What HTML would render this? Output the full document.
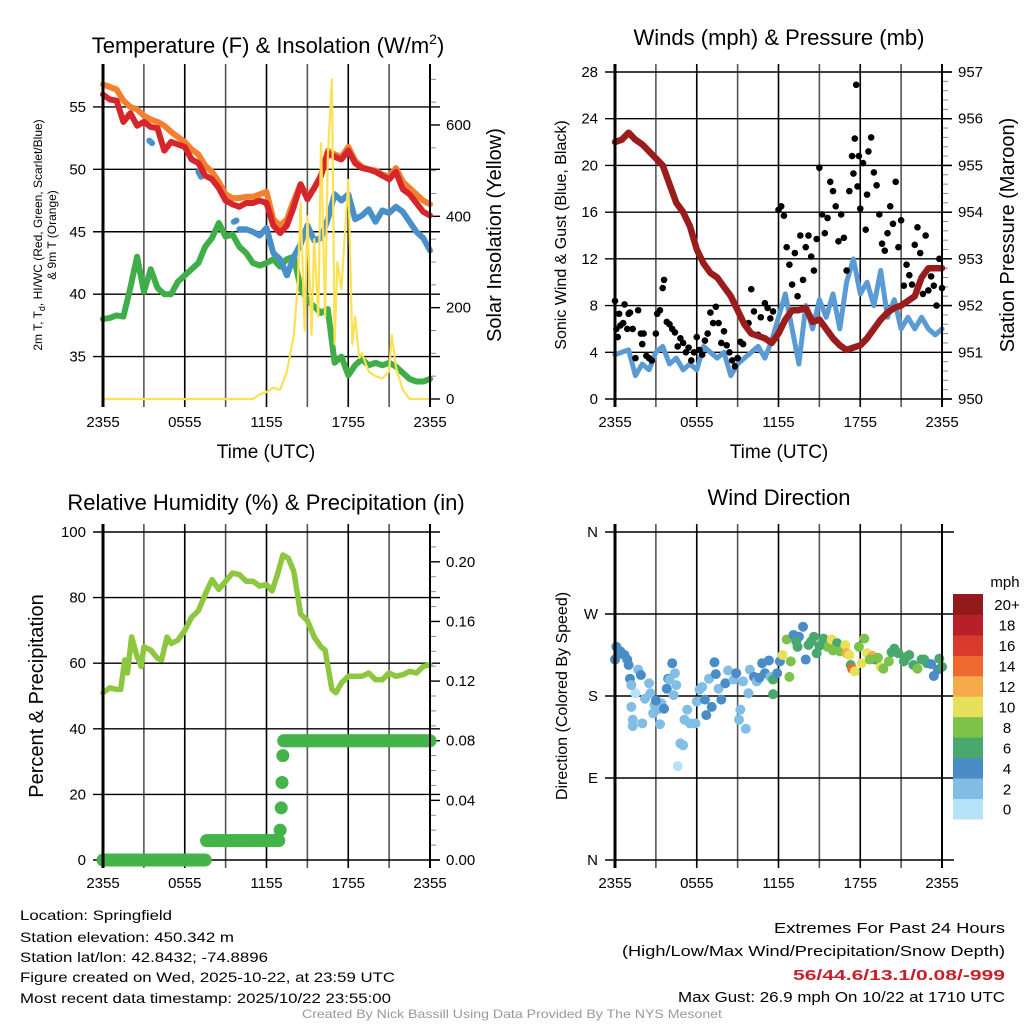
<!DOCTYPE html>
<html><head><meta charset="utf-8">
<style>
html,body{margin:0;padding:0;background:#fff;}
svg{display:block;font-family:"Liberation Sans",Arial,sans-serif;}
.t{font-size:14px;fill:#000}
</style></head>
<body>
<svg id="chart" xmlns="http://www.w3.org/2000/svg" width="1024" height="1024" viewBox="0 0 1024 1024">
<rect width="1024" height="1024" fill="#fff"/>
<g id="g1"></g>
<g id="g2"></g>
<g id="g3"></g>
<g id="g4"></g>

<text x="268" y="53" font-size="22" text-anchor="middle">Temperature (F) &amp; Insolation (W/m<tspan font-size="14" dy="-9">2</tspan><tspan dy="9">)</tspan></text>
<text x="779" y="45" font-size="22" text-anchor="middle">Winds (mph) &amp; Pressure (mb)</text>
<text x="266" y="510" font-size="22" text-anchor="middle">Relative Humidity (%) &amp; Precipitation (in)</text>
<text x="779" y="505" font-size="22" text-anchor="middle">Wind Direction</text>

<text transform="translate(42,235) rotate(-90)" font-size="12" text-anchor="middle">2m T, T<tspan font-size="9" dy="3">d</tspan><tspan dy="-3">, HI/WC (Red, Green, Scarlet/Blue)</tspan></text>
<text transform="translate(56,235) rotate(-90)" font-size="12" text-anchor="middle">&amp; 9m T (Orange)</text>
<text transform="translate(501,235) rotate(-90)" font-size="20" text-anchor="middle">Solar Insolation (Yellow)</text>
<text transform="translate(566,235) rotate(-90)" font-size="16" text-anchor="middle">Sonic Wind &amp; Gust (Blue, Black)</text>
<text transform="translate(1014,235) rotate(-90)" font-size="20" text-anchor="middle">Station Pressure (Maroon)</text>
<text transform="translate(43,696) rotate(-90)" font-size="20" text-anchor="middle">Percent &amp; Precipitation</text>
<text transform="translate(567,696) rotate(-90)" font-size="16" text-anchor="middle">Direction (Colored By Speed)</text>
<text x="266" y="458" font-size="19" text-anchor="middle">Time (UTC)</text>
<text x="779" y="458" font-size="19" text-anchor="middle">Time (UTC)</text>

<g font-size="14">
<text x="20" y="920" textLength="152" lengthAdjust="spacingAndGlyphs">Location: Springfield</text>
<text x="20" y="942" textLength="214" lengthAdjust="spacingAndGlyphs">Station elevation: 450.342 m</text>
<text x="20" y="962" textLength="248" lengthAdjust="spacingAndGlyphs">Station lat/lon: 42.8432; -74.8896</text>
<text x="20" y="982" textLength="375" lengthAdjust="spacingAndGlyphs">Figure created on Wed, 2025-10-22, at 23:59 UTC</text>
<text x="20" y="1003" textLength="371" lengthAdjust="spacingAndGlyphs">Most recent data timestamp: 2025/10/22 23:55:00</text>
</g>
<g font-size="15">
<text x="774" y="933" textLength="231" lengthAdjust="spacingAndGlyphs">Extremes For Past 24 Hours</text>
<text x="622" y="956" textLength="383" lengthAdjust="spacingAndGlyphs">(High/Low/Max Wind/Precipitation/Snow Depth)</text>
<text x="793" y="980" fill="#c8202a" font-weight="bold" textLength="212" lengthAdjust="spacingAndGlyphs">56/44.6/13.1/0.08/-999</text>
<text x="678" y="1002" textLength="327" lengthAdjust="spacingAndGlyphs">Max Gust: 26.9 mph On 10/22 at 1710 UTC</text>
</g>
<text x="302" y="1018" font-size="12" fill="#999" textLength="420" lengthAdjust="spacingAndGlyphs">Created By Nick Bassill Using Data Provided By The NYS Mesonet</text>
</svg>
<script>
// ---------- data ----------
const xTickLabels = ["2355","0555","1155","1755","2355"];
const halfHours = [0,0.5,1,1.5,2,2.5,3,3.5,4,4.5,5,5.5,6,6.5,7,7.5,8,8.5,9,9.5,10,10.5,11,11.5,12,12.5,13,13.5,14,14.5,15,15.5,16,16.5,17,17.5,18,18.5,19,19.5,20,20.5,21,21.5,22,22.5,23,23.5,24];
const tempRed = [56,55.6,55.5,53.8,54.5,53.5,53.8,53.4,53.3,51.5,52.2,52,51.8,50.8,50.5,49.5,49.2,48.5,47.5,47.2,47,47.3,47.3,47.5,47.3,45.5,44.9,45.5,47,48.8,47.6,48.5,49.5,51.3,51,50.8,51.5,50.5,50.1,50,49.8,49.5,49.2,49.8,48.4,48,47.3,46.6,46.3];
const temp9m = [56.8,56.6,56.4,55.5,55,54.8,54.3,54,53.8,53.5,53,52.6,52.2,51.6,51.2,50.3,49.8,49,48,47.7,47.7,47.8,47.8,48,48.2,46,45.5,46,47.5,48.8,47.8,48.5,49.5,51.5,51.2,51,51.8,50.7,50.2,50,49.9,49.6,49.4,50.1,49,48.5,48,47.5,47.2];
const dewpoint = [38,38.1,38.3,38.2,40.5,43,40.2,42,40.5,40,40,41,41.5,42,42.5,43.8,44.5,45.7,44.6,44.8,43.8,43.3,42.5,42.3,42.5,42.8,42.2,42.8,43,40.5,39.5,39,38.5,38.8,34.5,35,33.5,34.3,34.8,34.3,34.5,34.3,34.5,34.2,33.7,33.2,33,33,33.2];
const hiwcTimes = [10,10.5,11,11.5,12,12.5,13,13.5,14,14.5,15,15.5,16,16.5,17,17.5,18,18.5,19,19.5,20,20.5,21,21.5,22,22.5,23,23.5,24];
const hiwc = [45.2,45.2,45,44.7,45.3,43.3,42.8,41.5,43,44,45.5,44.3,44.5,46,48,47.5,48,46,46.3,46.8,45.8,46.7,46.5,47,46.6,45.8,45,44.5,43.5];
const hiwcFragTimes = [3.4,3.6,7.0,7.2,9.6,9.8];
const hiwcFrag = [52.3,52.1,49.8,49.4,45.8,45.9];
const solarTimes = [0,11,11.5,12,12.5,13,13.5,14,14.3,14.5,14.8,15,15.3,15.5,15.8,16,16.3,16.5,16.8,17,17.2,17.5,18,18.3,18.5,18.8,19,19.5,20,20.5,21,21.2,21.5,22,22.5,24];
const solar = [0,0,10,15,25,20,60,140,250,430,150,400,140,350,180,560,180,530,700,120,300,240,480,120,180,90,100,60,50,45,60,140,70,20,0,0];

const windSpeed = [3.8,4,4.2,2,3,2.5,4,4.5,3,3.5,2.5,3,2.5,4.5,4,3.5,4,2,3,3.5,4,4.5,3.5,5,7,9,6,3,8,6,8.5,7,9,6,10,12,9,10,8,11,7,8.5,6,7,6,7,6,5.5,6];
const pressure = [955.5,955.55,955.7,955.55,955.45,955.3,955.15,955,954.6,954.2,954,953.7,953.2,952.9,952.7,952.6,952.4,952.2,951.9,951.6,951.4,951.35,951.3,951.2,951.4,951.7,951.9,951.9,951.95,951.65,951.7,951.5,951.3,951.15,951.05,951.1,951.15,951.3,951.5,951.7,951.85,951.95,952,952.1,952.2,952.6,952.8,952.8,952.8];
const gustTimes = [0,0.1,0.2,0.3,0.4,0.6,0.7,0.9,1,1.1,1.3,1.5,1.7,1.9,2,2.1,2.3,2.5,2.7,3,3.1,3.3,3.5,3.6,3.8,4,4.2,4.4,4.6,4.8,5,5.2,5.4,5.6,5.8,6,6.2,6.4,6.6,6.8,7,7.2,7.4,7.6,7.8,8,8.2,8.4,8.6,8.8,9,9.2,9.4,9.8,10,10.2,10.5,10.7,11,11.2,11.4,11.6,12,12.2,12.4,12.6,12.8,13,13.2,13.4,13.6,13.8,14,14.2,14.4,14.6,14.8,15,15.2,15.4,15.6,15.8,16,16.2,16.4,16.6,16.8,17,17.2,17.4,17.5,17.6,17.7,17.8,17.9,18,18.2,18.4,18.5,18.6,18.8,19,19.2,19.4,19.6,19.8,20,20.2,20.4,20.6,20.8,21,21.2,21.4,21.6,21.8,22,22.2,22.4,22.6,22.8,23,23.2,23.4,23.6,23.8,24];
const gusts = [8.4,6,5.3,7.3,6.3,6.5,8.1,6,7.3,7.4,6,3.5,7.6,5.6,4.7,5.6,3.7,3.5,3.3,5.6,7.3,7.6,9.5,10.2,6.6,6.4,6,5.7,4.5,5.2,4.8,4,4.4,3.3,4,5.3,4.2,3.8,5,5.6,7.4,6.5,7.9,6.5,4.8,5.8,4.6,4,3.3,2.8,3.5,4.9,4.7,6.5,9.4,7.5,5.5,7,8.2,7.8,6.9,7.5,16.2,16.5,15.7,13,11.5,9.8,12.5,8.8,14,10.2,13,14,12.2,11,13.7,19.8,15.8,14.2,15.5,18.6,17.8,16.5,13.5,15.8,13.8,11,17.8,20.8,19.3,22.3,26.9,18.2,20.8,16.3,20.2,14.5,17.5,21.2,22.4,19.4,18.3,15.8,13.3,12.7,14.2,16.5,15,18.6,13,15.3,9.7,11.5,10.6,9.8,13.2,14.7,12.5,9,14,9.3,10.5,9.7,8,12,9.5];

const rhTimes = [0,0.5,1,1.3,1.6,1.8,2.1,2.5,2.8,3,3.5,4,4.3,4.7,5,5.5,6,6.5,7,7.5,8,8.5,9,9.5,10,10.5,11,11.5,12,12.4,12.8,13.2,13.6,14,14.5,15,15.5,16,16.3,16.8,17.1,17.5,18,18.5,19,19.5,20,20.5,21,21.5,22,22.5,23,23.5,24];
const rh = [51,52.5,52,52,61,57,68,62,59,65,64,61.5,61,68,66,67,70,74,76,81,85.5,82.5,85,87.5,87,85,85,83.5,84,82,87,93,92,88,75,73,68,65,64,52,51,54,56,56,56,57,55,55,57,56,56.5,57.5,57,59,59.5];
const precipTimes = [0,7.6,13.0,13.08,13.14,13.2,13.26,13.32,24];
const precip = [0,0.013,0.02,0.035,0.052,0.07,0.08,0.08,0.08];

const dirTimes = [0,0.1,0.4,0.7,0.9,1,1.1,1.5,1.2,1.7,1.9,1.2,1.3,1.3,2,2.2,2.5,2.6,2.8,3.1,3.3,3.4,3.6,3.8,3.9,4.2,4.4,4.5,4.3,4,4.8,4.6,5,5.3,5.1,5.5,5.9,6,6.2,6.6,6.9,6.7,7.1,7.3,7.4,7.6,7.8,8.1,8.3,8.7,9.1,9.2,9.4,9.6,9.8,9.9,10.2,10.4,10.8,11,11.3,11.4,11.6,11.6,11.9,12.1,12.3,12.6,12.9,12.8,13.1,13.5,13.4,13.8,14,14.2,14.6,14.8,15.3,15.6,15.9,16.3,16.5,16.9,17,17.3,17.4,17.6,17.9,18.1,18.3,18.5,18.9,19.1,19.5,19.7,20.1,20.5,20.8,21.2,21.6,21.9,22.2,22.5,22.9,23.4,23.7,23.8,24,0.3,2.9,3.0,6.4,8.9,10.6,13.3,14.4,15.0,16.0,17.2,18.7,19.3,20.3,21.4,22.7,23.2];
const dirDeg = [220,234,229,225,220,214,199,183,192,209,203,168,154,147,150,177,194,183,161,165,149,172,166,188,199,216,205,192,181,198,128,103,126,165,154,150,150,174,187,176,199,159,168,217,204,188,176,194,208,198,154,165,196,144,183,209,201,196,216,205,219,201,198,182,205,218,225,242,218,201,247,245,234,256,220,236,245,227,243,234,242,238,229,236,227,214,210,207,234,216,243,227,224,220,212,210,218,232,227,218,225,214,210,220,216,202,209,221,212,226,170,175,190,205,200,240,240,235,230,225,220,222,228,223,220,215];
const dirSpeed = [4,4,4,4,4,4,4,1,3,3,4,3,3,3,3,3,3,3,3,3,3,3,4,4,4,4,3,3,3,3,2,0,2,3,3,3,3,3,3,4,3,4,4,4,4,3,4,4,3,3,3,3,3,3,3,3,4,3,4,4,4,3,7,7,4,4,10,8,8,8,5,4,6,4,4,6,7,6,7,8,10,7,8,10,13,7,14,10,8,10,8,10,12,7,10,9,8,6,6,6,7,6,8,6,6,5,4,6,6,4,3,4,3,4,4,6,7,6,9,11,9,8,7,6,7,5];

const speedBinLabels = ["0","2","4","6","8","10","12","14","16","18","20+"];
const speedColors = ["#b6e2f7","#82bde6","#4a8dc6","#48a86d","#7dc24a","#e6e05a","#f6ab4a","#ee6930","#d93a2b","#b81f29","#921a1c"];

// ---------- helpers ----------
const NS="http://www.w3.org/2000/svg";
function mk(parent,tag,attrs){const e=document.createElementNS(NS,tag);for(const k in attrs)e.setAttribute(k,attrs[k]);parent.appendChild(e);return e;}
function linScale(d0,d1,r0,r1){return v=>r0+(v-d0)*(r1-r0)/(d1-d0);}

function frame(g,L,R,T,B,nameP){
  const xs=linScale(0,24,L,R);
  for(let h=0;h<=24;h+=3){
    const gl=mk(g,'line',{x1:xs(h),x2:xs(h),y1:T-8,y2:B+8,stroke:(h%6==0)?'#000':'#555','stroke-width':1.6});
    
    
  }
  xTickLabels.forEach((lab,i)=>{
    const t=mk(g,'text',{x:xs(i*6),y:B+28,'font-size':15,'text-anchor':'middle'});
    t.textContent=lab;
    
    
  });
  return xs;
}
function border(g,L,R,T,B){
  const l1=mk(g,'line',{x1:L,x2:L,y1:T-8,y2:B+8,stroke:'#000','stroke-width':3});
  
  
  const l2=mk(g,'line',{x1:R,x2:R,y1:T-8,y2:B+8,stroke:'#000','stroke-width':2});
  
  
}
function hgrid(g,ys,vals,L,R,leftLabels,nameP){
  vals.forEach((v,i)=>{
    const ln=mk(g,'line',{x1:L-10,x2:R+10,y1:ys(v),y2:ys(v),stroke:'#000','stroke-width':1.4});
    
    
    if(leftLabels){
      const t=mk(g,'text',{x:L-17,y:ys(v)+5,'font-size':15,'text-anchor':'end'});
      t.textContent=leftLabels[i];
      
      
    }
  });
}
function rightTicks(g,ys,vals,labels,minorVals,R,nameP){
  minorVals.forEach(v=>{mk(g,'line',{x1:R,x2:R+6,y1:ys(v),y2:ys(v),stroke:'#888','stroke-width':1});});
  vals.forEach((v,i)=>{
    mk(g,'line',{x1:R,x2:R+10,y1:ys(v),y2:ys(v),stroke:'#000','stroke-width':1.4});
    const t=mk(g,'text',{x:R+16,y:ys(v)+5,'font-size':15});
    t.textContent=labels[i];
    
    
  });
}
function polyline(g,xs,ys,tArr,vArr,color,w,name){
  const pts=tArr.map((t,i)=>xs(t).toFixed(1)+','+ys(vArr[i]).toFixed(1)).join(' ');
  const p=mk(g,'polyline',{points:pts,fill:'none',stroke:color,'stroke-width':w,'stroke-linejoin':'round','stroke-linecap':'round'});
  
  
  return p;
}

// ---------- panel 1 ----------
(function(){
  const g=document.getElementById('g1');
  const L=103,R=430,T=72,B=399;
  const xs=frame(g,L,R,T,B,'temp');
  const ys=linScale(31.6,57.8,B,T);
  const ysol=linScale(0,716,B,T);
  hgrid(g,ys,[35,40,45,50,55],L,R,["35","40","45","50","55"],'temp');
  const minor=[];for(let v=50;v<=700;v+=50)if(v%200)minor.push(v);
  rightTicks(g,ysol,[0,200,400,600],["0","200","400","600"],minor,R,'solar');
  polyline(g,xs,ys,halfHours,dewpoint,'#3fae49',6,'dewpoint-line');
  polyline(g,xs,ys,hiwcTimes,hiwc,'#4a90c8',6,'heat-index-wind-chill-line');
  for(let i=0;i<hiwcFrag.length;i+=2){
    polyline(g,xs,ys,hiwcFragTimes.slice(i,i+2),hiwcFrag.slice(i,i+2),'#4a90c8',6,'heat-index-fragment');
  }
  polyline(g,xs,ys,halfHours,temp9m,'#f47f2e',6,'9m-temperature-line');
  polyline(g,xs,ys,halfHours,tempRed,'#d7262b',6,'2m-temperature-line');
  polyline(g,xs,ysol,solarTimes,solar,'#fbe153',2.2,'solar-insolation-line');
  border(g,L,R,T,B);
})();

// ---------- panel 2 ----------
(function(){
  const g=document.getElementById('g2');
  const L=615,R=942,T=72,B=399;
  const xs=frame(g,L,R,T,B,'winds');
  const ys=linScale(0,28,B,T);
  const yp=linScale(950,957,B,T);
  hgrid(g,ys,[0,4,8,12,16,20,24,28],L,R,["0","4","8","12","16","20","24","28"],'winds');
  const minor=[];for(let v=950.2;v<957;v+=0.2)minor.push(v);
  rightTicks(g,yp,[950,951,952,953,954,955,956,957],["950","951","952","953","954","955","956","957"],minor,R,'pressure');
  polyline(g,xs,ys,halfHours,windSpeed,'#5a9bd4',5,'sonic-wind-line');
  gustTimes.forEach((t,i)=>{
    const c=mk(g,'circle',{cx:xs(t),cy:ys(gusts[i]),r:3.3,fill:'#000'});
    
    
  });
  polyline(g,xs,yp,halfHours,pressure,'#9b1c1c',6.5,'pressure-line');
  border(g,L,R,T,B);
})();

// ---------- panel 3 ----------
(function(){
  const g=document.getElementById('g3');
  const L=103,R=430,T=532,B=860;
  const xs=frame(g,L,R,T,B,'rh');
  const ys=linScale(0,100,B,T);
  const ypr=linScale(0,0.22,B,T);
  hgrid(g,ys,[0,20,40,60,80,100],L,R,["0","20","40","60","80","100"],'rh');
  const minor=[];for(let v=0.01;v<0.22;v+=0.01)minor.push(v);
  rightTicks(g,ypr,[0,0.04,0.08,0.12,0.16,0.2],["0.00","0.04","0.08","0.12","0.16","0.20"],minor,R,'precip');
  polyline(g,xs,ys,rhTimes,rh,'#8dc63f',5.5,'relative-humidity-line');
  // precipitation dots (step series)
  for(let i=0;i<precipTimes.length-1;i++){
    const t0=precipTimes[i],t1=precipTimes[i+1];
    const v=precip[i];
    const n=Math.max(1,Math.round((t1-t0)/0.1));
    for(let k=0;k<n;k++){
      const c=mk(g,'circle',{cx:xs(t0+(t1-t0)*k/n),cy:ypr(v),r:6.5,fill:'#44b34a'});
      
      
    }
  }
  const last=mk(g,'circle',{cx:xs(24),cy:ypr(precip[precip.length-1]),r:6.5,fill:'#44b34a'});
  
  
  border(g,L,R,T,B);
})();

// ---------- panel 4 ----------
(function(){
  const g=document.getElementById('g4');
  const L=615,R=942,T=532,B=860;
  const xs=frame(g,L,R,T,B,'dir');
  const ys=linScale(0,360,B,T);
  hgrid(g,ys,[0,90,180,270,360],L,R+2,["N","E","S","W","N"],'dir');
  dirTimes.forEach((t,i)=>{
    const bin=Math.min(10,Math.floor(dirSpeed[i]/2));
    const c=mk(g,'circle',{cx:xs(t),cy:ys(dirDeg[i]),r:5,fill:speedColors[bin]});
    
    
  });
  border(g,L,R,T,B);
  const cb=mk(g,'g',{});
  
  
  const top=594,h=20.45;
  speedColors.forEach((col,i)=>{
    const y=top+(10-i)*h;
    const r=mk(cb,'rect',{x:953,y:y,width:30,height:h+0.5,fill:col});
    
    
    const t=mk(cb,'text',{x:1007,y:y+h/2+6,'font-size':15,'text-anchor':'middle'});
    t.textContent=speedBinLabels[i];
    
    
  });
  const u=mk(cb,'text',{x:1005,y:587,'font-size':15,'text-anchor':'middle'});
  u.textContent='mph';
  
  
})();
</script>
</body></html>
